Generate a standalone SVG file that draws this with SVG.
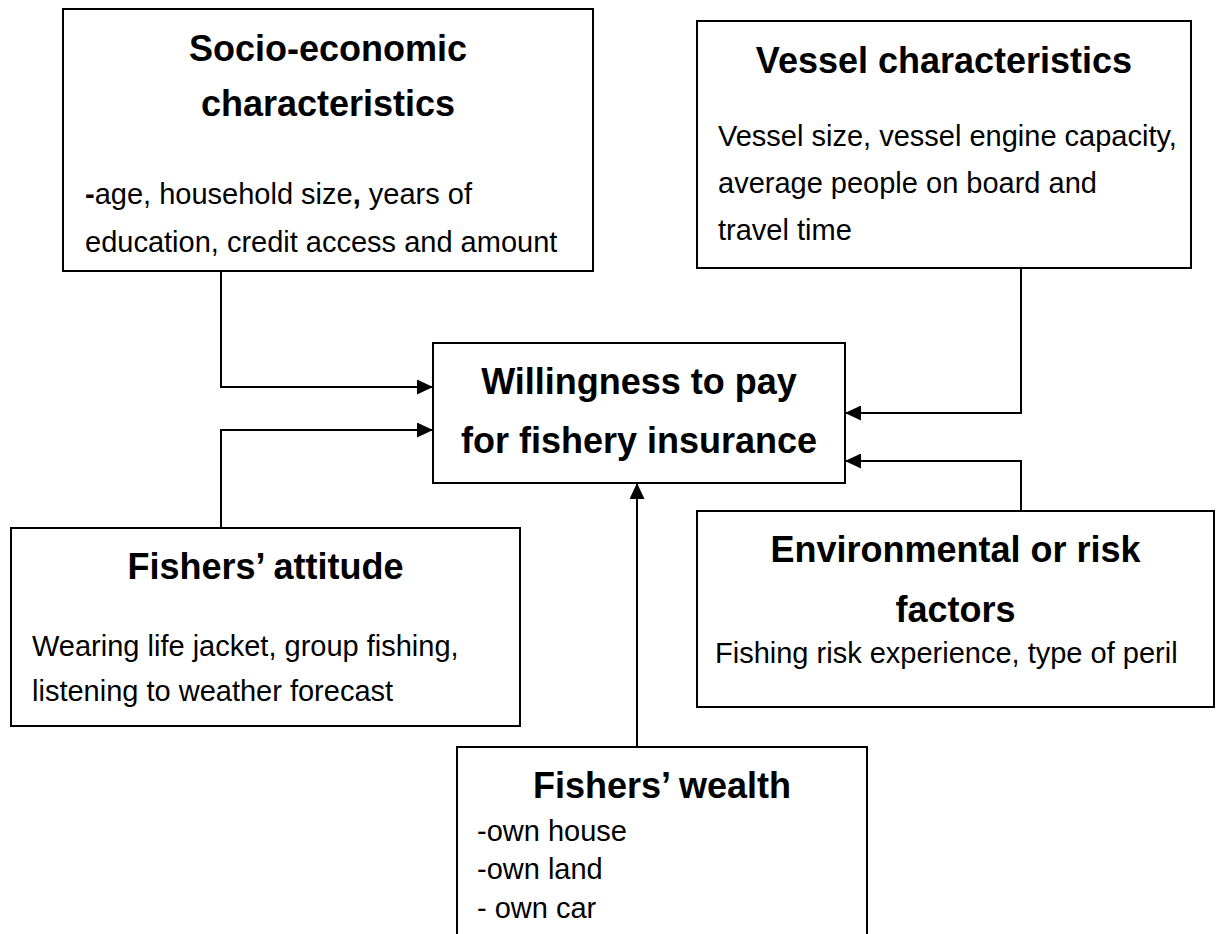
<svg xmlns="http://www.w3.org/2000/svg" width="1222" height="934" viewBox="0 0 1222 934">
<style>
.box{fill:#fff;stroke:#000;stroke-width:2}
.title{font-family:"Liberation Sans",Arial,sans-serif;font-weight:bold;font-size:36px;fill:#000;text-anchor:middle}
.body{font-family:"Liberation Sans",Arial,sans-serif;font-size:29px;fill:#000}
.conn{fill:none;stroke:#000;stroke-width:2}
</style>
<defs>
<marker id="arrow" markerUnits="userSpaceOnUse" markerWidth="16" markerHeight="15" refX="16" refY="7.5" orient="auto">
<path d="M0,0 L16,7.5 L0,15 z" fill="#000"/>
</marker>
</defs>
<rect width="1222" height="934" fill="#fff"/>
<g id="connectors">
<path class="conn" d="M221,272 V387 H433" marker-end="url(#arrow)"/>
<path class="conn" d="M221,528 V430 H433" marker-end="url(#arrow)"/>
<path class="conn" d="M1021,268 V413 H845" marker-end="url(#arrow)"/>
<path class="conn" d="M1021,511 V461 H845" marker-end="url(#arrow)"/>
<path class="conn" d="M637,747 V483" marker-end="url(#arrow)"/>
</g>
<g id="socio">
<rect class="box" x="63" y="9" width="530" height="262"/>
<text class="title" x="328" y="61">Socio-economic</text>
<text class="title" x="328" y="116">characteristics</text>
<text class="body" x="85" y="204"><tspan font-weight="bold">-</tspan>age, household size<tspan font-weight="bold">,</tspan> years of</text>
<text class="body" x="85" y="252">education, credit access and amount</text>
</g>
<g id="vessel">
<rect class="box" x="697" y="21" width="494" height="247"/>
<text class="title" x="944" y="73">Vessel characteristics</text>
<text class="body" x="718" y="146">Vessel size, vessel engine capacity,</text>
<text class="body" x="718" y="193">average people on board and</text>
<text class="body" x="718" y="240">travel time</text>
</g>
<g id="wtp">
<rect class="box" x="433" y="343" width="412" height="140"/>
<text class="title" x="639" y="394">Willingness to pay</text>
<text class="title" x="639" y="453">for fishery insurance</text>
</g>
<g id="attitude">
<rect class="box" x="11" y="528" width="509" height="198"/>
<text class="title" x="265.5" y="579">Fishers’ attitude</text>
<text class="body" x="32" y="656">Wearing life jacket, group fishing,</text>
<text class="body" x="32" y="701">listening to weather forecast</text>
</g>
<g id="environment">
<rect class="box" x="697" y="511" width="517" height="196"/>
<text class="title" x="955.5" y="562">Environmental or risk</text>
<text class="title" x="955.5" y="622">factors</text>
<text class="body" x="715" y="663">Fishing risk experience, type of peril</text>
</g>
<g id="wealth">
<rect class="box" x="457" y="747" width="410" height="200"/>
<text class="title" x="662" y="798">Fishers’ wealth</text>
<text class="body" x="477" y="841">-own house</text>
<text class="body" x="477" y="879">-own land</text>
<text class="body" x="477" y="918">- own car</text>
</g>
</svg>
